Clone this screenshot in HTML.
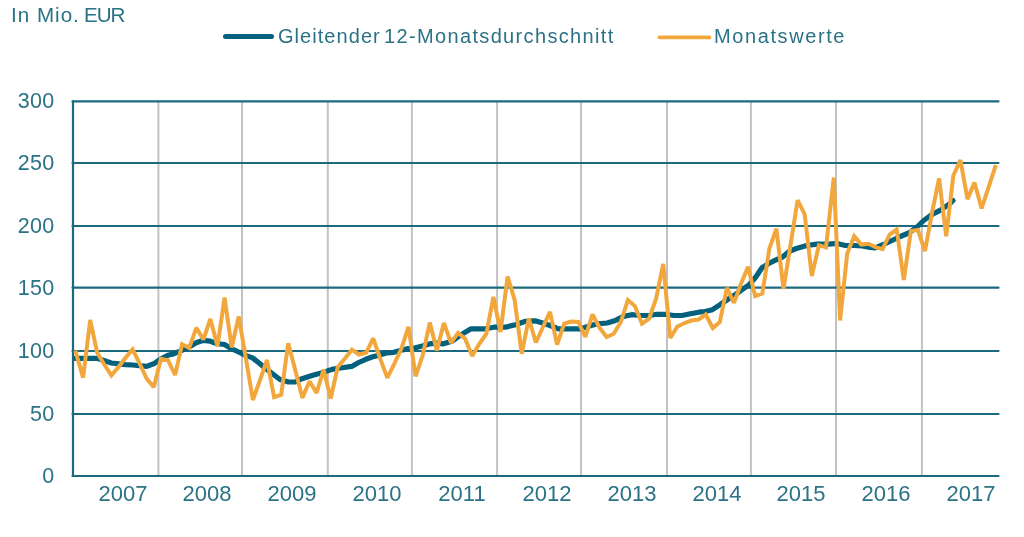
<!DOCTYPE html>
<html><head><meta charset="utf-8"><style>
html,body{margin:0;padding:0;background:#fff;}
body{width:1024px;height:537px;position:relative;overflow:hidden;-webkit-font-smoothing:antialiased;font-family:"Liberation Sans",sans-serif;color:#2a7286;}
.t{position:absolute;white-space:nowrap;will-change:transform;font-size:20px;line-height:24px;}
.lg{letter-spacing:1.13px}
.yl{position:absolute;will-change:transform;left:0;width:54.5px;text-align:right;font-size:21.5px;line-height:24px;letter-spacing:0.3px}
.xl{position:absolute;will-change:transform;top:481.5px;width:80px;text-align:center;font-size:22px;line-height:24px;}
</style></head><body>
<svg width="1024" height="537" viewBox="0 0 1024 537" style="position:absolute;left:0;top:0"><line x1="158.4" y1="101.4" x2="158.4" y2="476" stroke="#c2c2c2" stroke-width="2"/><line x1="242" y1="101.4" x2="242" y2="476" stroke="#c2c2c2" stroke-width="2"/><line x1="327.8" y1="101.4" x2="327.8" y2="476" stroke="#c2c2c2" stroke-width="2"/><line x1="411.9" y1="101.4" x2="411.9" y2="476" stroke="#c2c2c2" stroke-width="2"/><line x1="497.1" y1="101.4" x2="497.1" y2="476" stroke="#c2c2c2" stroke-width="2"/><line x1="581.05" y1="101.4" x2="581.05" y2="476" stroke="#c2c2c2" stroke-width="2"/><line x1="667" y1="101.4" x2="667" y2="476" stroke="#c2c2c2" stroke-width="2"/><line x1="750.9" y1="101.4" x2="750.9" y2="476" stroke="#c2c2c2" stroke-width="2"/><line x1="836" y1="101.4" x2="836" y2="476" stroke="#c2c2c2" stroke-width="2"/><line x1="921.9" y1="101.4" x2="921.9" y2="476" stroke="#c2c2c2" stroke-width="2"/><line x1="72.5" y1="476" x2="998.5" y2="476" stroke="#1c6a80" stroke-width="2.2" stroke-linecap="round"/><line x1="72.5" y1="414" x2="998.5" y2="414" stroke="#1c6a80" stroke-width="2.2" stroke-linecap="round"/><line x1="72.5" y1="351" x2="998.5" y2="351" stroke="#1c6a80" stroke-width="2.2" stroke-linecap="round"/><line x1="72.5" y1="287.7" x2="998.5" y2="287.7" stroke="#1c6a80" stroke-width="2.2" stroke-linecap="round"/><line x1="72.5" y1="226" x2="998.5" y2="226" stroke="#1c6a80" stroke-width="2.2" stroke-linecap="round"/><line x1="72.5" y1="163" x2="998.5" y2="163" stroke="#1c6a80" stroke-width="2.2" stroke-linecap="round"/><line x1="72.5" y1="101.4" x2="998.5" y2="101.4" stroke="#1c6a80" stroke-width="2.2" stroke-linecap="round"/><line x1="73" y1="101.4" x2="73" y2="476" stroke="#1c6a80" stroke-width="2.2" stroke-linecap="round"/><path d="M75.5,358.3 L97.2,358.3 L111.3,363.0 L125.5,364.7 L132.5,365.0 L146.7,366.4 L153.7,363.8 L160.8,359.0 L167.9,355.3 L174.2,353.7 L181.9,350.4 L189.1,347.0 L196.2,342.8 L203.2,340.3 L210.2,341.2 L217.3,343.7 L224.5,344.5 L231.5,348.7 L238.6,352.0 L245.6,355.4 L252.6,357.9 L259.7,363.5 L265.0,368.0 L271.5,373.0 L280.0,379.5 L288.5,382.0 L295.2,382.0 L302.0,378.7 L312.0,375.5 L322.0,372.8 L332.0,369.4 L342.0,367.8 L351.7,366.4 L358.7,362.5 L365.8,359.3 L372.8,356.8 L379.9,355.0 L386.9,352.8 L393.9,352.3 L401.1,350.3 L408.2,348.6 L415.4,347.8 L422.3,346.1 L429.5,343.9 L436.5,343.2 L443.4,343.8 L451.8,341.3 L460.1,335.4 L471.0,328.8 L485.3,328.8 L493.7,327.2 L505.4,327.2 L515.4,324.7 L525.5,321.3 L535.0,320.8 L542.6,323.0 L550.1,325.5 L558.5,328.8 L568.6,328.8 L580.3,328.8 L588.7,326.3 L597.1,323.8 L607.1,323.0 L615.5,320.4 L623.4,316.4 L631.8,314.7 L640.1,315.5 L648.5,315.5 L656.9,314.3 L665.3,314.3 L673.7,315.5 L682.0,315.5 L690.4,313.8 L698.8,312.2 L705.0,311.5 L712.5,309.7 L720.1,304.7 L727.6,299.5 L734.3,295.3 L741.0,290.3 L748.6,285.2 L755.3,277.7 L762.0,267.7 L768.7,263.5 L775.4,260.1 L782.9,256.8 L788.8,251.7 L796.3,248.5 L806.9,245.5 L816.9,244.2 L828.7,244.2 L837.0,243.4 L845.4,245.5 L853.8,245.5 L862.2,246.0 L870.0,247.5 L875.1,247.9 L883.5,244.5 L891.9,240.5 L900.3,236.5 L908.7,233.0 L917.0,227.0 L923.7,220.5 L932.1,214.4 L940.5,210.2 L950.0,203.5 L953.0,200.5" fill="none" stroke="#03617e" stroke-width="5.2" stroke-linejoin="round" stroke-linecap="round"/><path d="M75.3,350.6 L83.1,377.6 L90.2,320.0 L97.2,352.8 L104.3,364.5 L111.4,375.4 L118.5,367.0 L125.5,357.8 L132.6,349.4 L139.7,363.7 L146.8,378.8 L153.8,387.1 L160.9,358.9 L168.0,360.2 L175.1,375.0 L182.1,344.3 L189.2,348.0 L196.3,327.8 L203.4,339.5 L210.4,318.9 L217.5,346.2 L224.6,297.6 L231.7,347.5 L238.7,316.5 L245.8,358.0 L252.9,400.0 L260.0,380.0 L267.0,360.0 L274.1,397.2 L281.2,394.7 L288.2,343.2 L295.3,370.3 L302.4,397.9 L309.5,381.2 L316.6,392.9 L323.6,369.5 L330.7,398.5 L337.8,367.0 L344.9,358.6 L351.9,349.7 L359.0,354.5 L366.1,352.8 L373.2,338.5 L380.2,358.7 L387.3,377.9 L394.4,363.7 L401.4,348.6 L408.5,326.8 L415.6,376.3 L422.7,355.3 L429.8,322.6 L436.8,350.5 L443.9,323.0 L451.0,342.9 L458.1,332.9 L465.1,338.7 L472.2,356.0 L479.3,343.8 L486.4,333.7 L493.4,296.8 L500.5,332.0 L507.6,276.5 L514.7,300.2 L521.7,353.8 L528.8,318.6 L535.9,342.5 L543.0,327.0 L550.0,311.9 L557.1,344.6 L564.2,323.6 L571.2,321.5 L578.3,322.0 L585.4,337.0 L592.5,314.4 L599.6,327.8 L606.6,337.0 L613.7,333.7 L620.8,322.0 L627.9,300.0 L634.9,306.1 L642.0,323.7 L649.1,318.7 L656.1,298.6 L663.2,264.0 L670.3,338.0 L677.4,326.5 L684.5,323.0 L691.5,320.5 L698.6,319.5 L705.7,314.5 L712.8,328.0 L719.8,322.1 L726.9,287.8 L734.0,302.8 L741.1,283.6 L748.1,266.8 L755.2,296.1 L762.3,293.6 L769.4,248.5 L776.4,228.7 L783.5,289.0 L790.6,244.4 L797.6,200.2 L804.7,214.4 L811.8,276.0 L818.9,245.2 L826.0,247.3 L833.8,177.5 L840.1,320.5 L847.2,253.6 L854.2,236.2 L861.3,244.6 L868.4,243.7 L875.5,247.1 L882.6,249.2 L889.6,234.5 L896.7,229.5 L903.8,280.0 L910.9,231.0 L917.9,230.0 L925.0,251.0 L932.1,212.4 L939.1,178.5 L946.2,236.3 L953.3,175.7 L960.4,160.2 L967.5,199.2 L974.5,182.5 L981.6,208.5 L988.7,186.8 L995.8,165.1" fill="none" stroke="#f2a73c" stroke-width="4" stroke-linejoin="miter" stroke-miterlimit="2" stroke-linecap="butt"/><line x1="225.5" y1="36.4" x2="271.5" y2="36.4" stroke="#03617e" stroke-width="5" stroke-linecap="round"/><line x1="659.5" y1="37.3" x2="709.5" y2="37.3" stroke="#f2a73c" stroke-width="3.7" stroke-linecap="round"/></svg>
<div class="t" style="left:11px;top:2.6px;letter-spacing:1.0px;font-size:20.6px">In Mio.</div><div class="t" style="left:84px;top:2.6px;letter-spacing:-1.1px;font-size:20.6px">EUR</div>
<div class="t" style="left:278.3px;top:24px;letter-spacing:1.05px">Gleitender</div><div class="t" style="left:383.5px;top:24px;letter-spacing:1.35px">12-Monatsdurchschnitt</div>
<div class="t" style="left:713.5px;top:24px;letter-spacing:1.6px">Monatswerte</div>
<div class="yl" style="top:463.8px">0</div><div class="yl" style="top:401.8px">50</div><div class="yl" style="top:338.8px">100</div><div class="yl" style="top:275.5px">150</div><div class="yl" style="top:213.8px">200</div><div class="yl" style="top:150.8px">250</div><div class="yl" style="top:89.2px">300</div><div class="xl" style="left:82.6px">2007</div><div class="xl" style="left:167.4px">2008</div><div class="xl" style="left:252.3px">2009</div><div class="xl" style="left:337.1px">2010</div><div class="xl" style="left:422.0px">2011</div><div class="xl" style="left:506.8px">2012</div><div class="xl" style="left:591.6px">2013</div><div class="xl" style="left:676.5px">2014</div><div class="xl" style="left:761.3px">2015</div><div class="xl" style="left:846.2px">2016</div><div class="xl" style="left:931.0px">2017</div>
</body></html>
